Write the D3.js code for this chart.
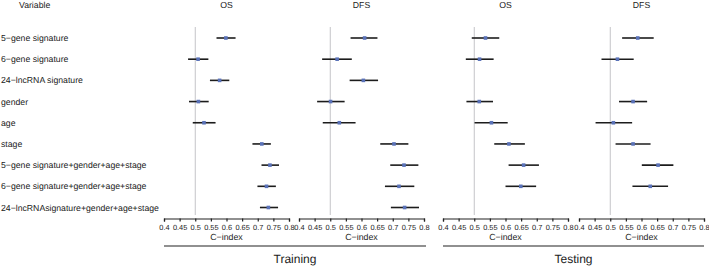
<!DOCTYPE html>
<html>
<head>
<meta charset="utf-8">
<script src="https://cdn.jsdelivr.net/npm/d3@7"></script>
<style>
  body { margin: 0; background: #fff; }
  text { font-family: "Liberation Sans", Arial, sans-serif; fill: #222; text-rendering: geometricPrecision; }
  .axis path, .axis line { stroke: #222; stroke-width: 1.2; }
  .axis text { font-size: 7.4px; fill: #222; }
</style>
</head>
<body>
<div id="chart"></div>
<script>
var w = 709;
var h = 267;

// variables (rows)
var variables = ["5\u2212gene signature", "6\u2212gene signature", "24\u2212lncRNA signature",
  "gender", "age", "stage", "5\u2212gene signature+gender+age+stage",
  "6\u2212gene signature+gender+age+stage", "24\u2212lncRNAsignature+gender+age+stage"];

// C-index estimates, lower and upper CI per panel (null = not shown)
var trainOS    = [0.598, 0.509, 0.578, 0.510, 0.528, 0.713, 0.739, 0.728, 0.734];
var trainOSlo  = [0.568, 0.477, 0.547, 0.480, 0.492, 0.683, 0.712, 0.699, 0.707];
var trainOShi  = [0.629, 0.542, 0.609, 0.543, 0.565, 0.742, 0.768, 0.758, 0.765];

var trainDFS   = [0.610, 0.522, 0.606, 0.501, 0.529, 0.704, 0.736, 0.720, 0.738];
var trainDFSlo = [0.565, 0.474, 0.562, 0.458, 0.476, 0.660, 0.692, 0.675, 0.694];
var trainDFShi = [0.651, 0.569, 0.653, 0.546, 0.581, 0.750, 0.782, 0.769, 0.784];

var testOS     = [0.536, 0.517, null, 0.516, 0.555, 0.611, 0.658, 0.649, null];
var testOSlo   = [0.492, 0.473, null, 0.475, 0.501, 0.564, 0.610, 0.600, null];
var testOShi   = [0.580, 0.562, null, 0.560, 0.607, 0.662, 0.707, 0.698, null];

var testDFS    = [0.588, 0.523, null, 0.573, 0.510, 0.573, 0.653, 0.628, null];
var testDFSlo  = [0.538, 0.472, null, 0.528, 0.453, 0.517, 0.601, 0.571, null];
var testDFShi  = [0.639, 0.575, null, 0.618, 0.570, 0.629, 0.702, 0.685, null];

var tickValues = [0.4, 0.45, 0.5, 0.55, 0.6, 0.65, 0.7, 0.75, 0.8];

var panels = [
  {title: "OS",  x0: 164, est: trainOS,  lo: trainOSlo,  hi: trainOShi},
  {title: "DFS", x0: 299, est: trainDFS, lo: trainDFSlo, hi: trainDFShi},
  {title: "OS",  x0: 443, est: testOS,   lo: testOSlo,   hi: testOShi},
  {title: "DFS", x0: 579, est: testDFS,  lo: testDFSlo,  hi: testDFShi}
];
var groups = [
  {name: "Training", x1: 164, x2: 426},
  {name: "Testing",  x1: 443, x2: 704}
];

var panelW = 125;
var axisY = 218.5;

var svg = d3.select("#chart").append("svg")
  .attr("width", w)
  .attr("height", h);

var yScale = d3.scalePoint()
  .domain(variables)
  .range([38, 207.5]);

// row labels
svg.append("text")
  .attr("x", 19).attr("y", 5)
  .attr("dy", "0.35em")
  .style("font-size", "8.7px")
  .text("Variable");

svg.selectAll(".rowlab")
  .data(variables)
  .enter().append("text")
  .attr("class", "rowlab")
  .attr("x", 1)
  .attr("y", function(d){ return yScale(d); })
  .attr("dy", "0.35em")
  .style("font-size", "8.7px")
  .text(function(d){ return d; });

panels.forEach(function(p){
  var xScale = d3.scaleLinear()
    .domain([0.4, 0.8])
    .range([p.x0, p.x0 + panelW]);

  var g = svg.append("g");

  g.append("text")
    .attr("x", p.x0 + panelW / 2).attr("y", 5)
    .attr("dy", "0.35em")
    .attr("text-anchor", "middle")
    .style("font-size", "8.7px")
    .text(p.title);

  // reference line at 0.5
  g.append("line")
    .attr("x1", xScale(0.5)).attr("x2", xScale(0.5))
    .attr("y1", 27).attr("y2", 215)
    .attr("stroke", "#c4c4c8")
    .attr("stroke-width", 1);

  var rows = variables.map(function(v, i){
    return {v: v, est: p.est[i], lo: p.lo[i], hi: p.hi[i]};
  }).filter(function(d){ return d.est !== null; });

  g.selectAll(".ci")
    .data(rows)
    .enter().append("line")
    .attr("x1", function(d){ return xScale(d.lo); })
    .attr("x2", function(d){ return xScale(d.hi); })
    .attr("y1", function(d){ return yScale(d.v); })
    .attr("y2", function(d){ return yScale(d.v); })
    .attr("stroke", "#1c1c1c")
    .attr("stroke-width", 1.6);

  g.selectAll(".pt")
    .data(rows)
    .enter().append("rect")
    .attr("x", function(d){ return xScale(d.est) - 1.8; })
    .attr("y", function(d){ return yScale(d.v) - 1.8; })
    .attr("width", 3.6).attr("height", 3.6)
    .attr("fill", "#5a72b8");

  var xAxis = d3.axisBottom(xScale)
    .tickValues(tickValues)
    .tickSize(3)
    .tickSizeOuter(3)
    .tickPadding(3)
    .tickFormat(function(d){ return String(+d.toFixed(2)); });

  g.append("g")
    .attr("class", "axis")
    .attr("transform", "translate(0," + axisY + ")")
    .call(xAxis);

  g.append("text")
    .attr("x", p.x0 + panelW / 2).attr("y", 237)
    .attr("dy", "0.35em")
    .attr("text-anchor", "middle")
    .style("font-size", "8.8px")
    .text("C\u2212index");
});

groups.forEach(function(gr){
  svg.append("line")
    .attr("x1", gr.x1).attr("x2", gr.x2)
    .attr("y1", 246).attr("y2", 246)
    .attr("stroke", "#222")
    .attr("stroke-width", 1.2);
  svg.append("text")
    .attr("x", (gr.x1 + gr.x2) / 2).attr("y", 259)
    .attr("dy", "0.35em")
    .attr("text-anchor", "middle")
    .style("font-size", "12px")
    .text(gr.name);
});
</script>
</body>
</html>
